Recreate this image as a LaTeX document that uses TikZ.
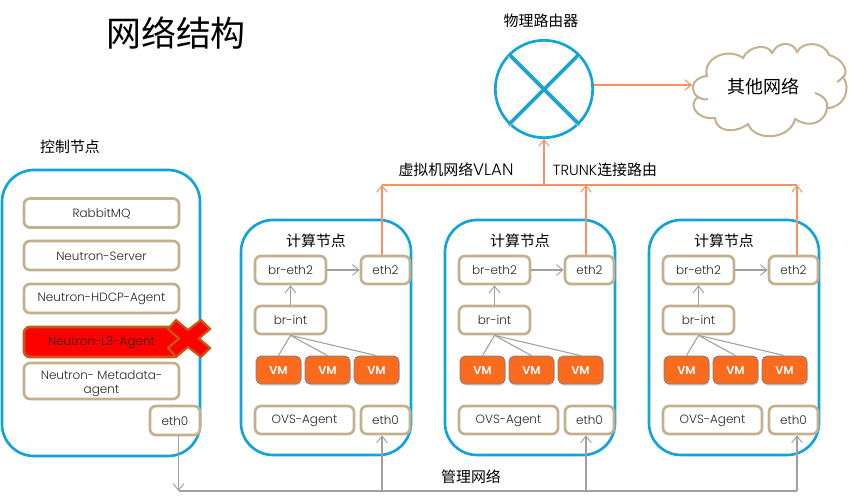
\documentclass[tikz,border=0pt]{standalone}
\usepackage{fontspec}
\setmainfont{Poppins}[UprightFont=* Light,BoldFont=* SemiBold]
\newfontfamily\cjk{Noto Sans CJK SC}
\usetikzlibrary{arrows.meta,shadows}
\definecolor{nodeblue}{HTML}{12A3DA}
\definecolor{tan}{HTML}{C4B08F}
\definecolor{vmorange}{HTML}{FB6B1D}
\definecolor{linkorange}{HTML}{F98F63}
\definecolor{linkgray}{HTML}{A0A0A0}
\definecolor{xborder}{HTML}{C55A11}
\definecolor{txt}{HTML}{262626}
\tikzset{
 x=0.75pt,y=-0.75pt,
 hostbox/.style={draw=nodeblue,line width=2pt,rounded corners=24pt,fill=white,inner sep=0pt},
 svc/.style={draw=tan,line width=2pt,rounded corners=4.5pt,fill=white,inner sep=0pt,text=txt,font=\fontsize{9}{10.4}\selectfont,align=center},
 vmbox/.style={draw=gray,line width=.6pt,rounded corners=4pt,fill=vmorange,inner sep=0pt,text=white,font=\bfseries\fontsize{8.6}{10}\selectfont,
   drop shadow={shadow xshift=.6pt,shadow yshift=-1.2pt,opacity=.3}},
 lbl/.style={inner sep=0pt,text=black,font=\cjk\fontsize{11.2}{13}\selectfont},
 grayline/.style={draw=linkgray,line width=.8pt},
 grayarrow/.style={grayline,-{Straight Barb[length=5pt,width=8pt,line width=.7pt]}},
 orangeline/.style={draw=linkorange,line width=.9pt},
 orangearrow/.style={orangeline,-{Straight Barb[length=5pt,width=8pt,line width=.7pt]}},
}
\newcommand{\tstrut}{\rule[-0.5pt]{0pt}{8pt}}
\newcommand{\bx}[6][svc]{\node[#1,minimum width=#4*0.75pt,minimum height=#5*0.75pt] (#2) at (#3) {\tstrut#6};}
\newcommand{\computeNode}[2]{%
 \begin{scope}[shift={(#2,0)}]
 \node[hostbox,minimum width=127.5pt,minimum height=176.25pt] (host#1) at (326,337.5) {};
 \node[lbl] (title#1) at (316,241) {计算节点};
 \bx{br#1}{290.5,270}{71}{28}{br-eth2}
 \bx{ethb#1}{385.5,270}{49}{28}{eth2}
 \bx{int#1}{290.5,320}{71}{28}{br-int}
 \bx[vmbox]{vma#1}{278.5,370}{45}{28}{VM}
 \bx[vmbox]{vmb#1}{327.5,370}{45}{28}{VM}
 \bx[vmbox]{vmc#1}{376.5,370}{45}{28}{VM}
 \bx{ovs#1}{304.5,420}{99}{28}{OVS-Agent}
 \bx{etha#1}{385.5,420}{49}{28}{eth0}
 \draw[grayarrow] (br#1.east) -- (ethb#1.west);
 \draw[grayarrow] (int#1.north) -- (br#1.south);
 \draw[grayline] (int#1.south) -- (vma#1.north);
 \draw[grayline] (int#1.south) -- (vmb#1.north);
 \draw[grayline] (int#1.south) -- (vmc#1.north);
 \end{scope}}
\begin{document}
\begin{tikzpicture}
\useasboundingbox (0,0) rectangle (849,501);
\fill[white] (0,0) rectangle (849,501);
\node[inner sep=0pt,font=\cjk\fontsize{26.2}{30}\selectfont] (title) at (176,33) {网络结构};
\node[lbl] (ctl) at (70,147) {控制节点};
\node[lbl] (rtl) at (541,21) {物理路由器};
\node[lbl,font=\fontsize{12.5}{13}\selectfont] (vlan) at (456,170) {{\cjk\fontsize{11.2}{13}\selectfont 虚拟机网络}VLAN};
\node[lbl,font=\fontsize{11}{13}\selectfont] (trunk) at (605,170) {TRUNK{\cjk\fontsize{11.2}{13}\selectfont 连接路由}};
\node[lbl] (mgmt) at (471,477) {管理网络};
% control node
\node[hostbox,minimum width=148.5pt,minimum height=214.5pt] (ctlhost) at (101,313) {};
\bx{rabbit}{101.5,213}{155}{29}{RabbitMQ}
\bx{server}{101.5,255.5}{155}{29}{Neutron-Server}
\bx{hdcp}{101.5,298.5}{155}{29}{Neutron-HDCP-Agent}
\node[svc,draw=xborder,fill=red,minimum width=116.25pt,minimum height=22.5pt] (lthree) at (101.5,342) {\tstrut Neutron-L3-Agent};
\bx{meta}{101.5,381}{155}{36}{\rule{0pt}{10pt}Neutron- Metadata-\\agent}
\bx{ethc}{175,420.5}{50}{29}{eth0}
% red cross
\filldraw[fill=red,draw=xborder,line width=1.6pt] (176,320) -- (188,330) -- (201,320) -- (210,329) -- (199,338.5) -- (210,348) -- (201,357) -- (188,347) -- (176,357) -- (168,348) -- (179,338.5) -- (168,329) -- cycle;
% compute nodes
\computeNode{1}{0}
\computeNode{2}{204}
\computeNode{3}{408}
% router
\node[draw=nodeblue,line width=2pt,circle,minimum size=73pt,inner sep=0pt,fill=white] (router) at (544,89) {};
\draw[draw=nodeblue,line width=2.4pt,preaction={draw=gray!50,line width=2.4pt,transform canvas={yshift=-1pt}}]
  (router.45) -- (router.225) (router.135) -- (router.315);
% cloud
\path[draw=tan,line width=1.5pt,fill=white] (707,76)
 .. controls (702,58) and (728,47) .. (743,58)
 .. controls (748,46) and (768,43) .. (772,53)
 .. controls (778,41) and (793,41) .. (797,52)
 .. controls (802,41) and (824,41) .. (829,55)
 .. controls (842,58) and (850,72) .. (843,77)
 .. controls (852,90) and (843,108) .. (827,108)
 .. controls (826,120) and (812,130) .. (795,119)
 .. controls (790,140) and (755,142) .. (748,124)
 .. controls (735,134) and (716,132) .. (715,118)
 .. controls (695,120) and (688,103) .. (698,97)
 .. controls (691,93) and (689,78) .. (707,76) -- cycle;
\draw[tan,line width=1.5pt] (698,97) .. controls (701,99) and (704,100) .. (708,99);
\draw[tan,line width=1.5pt] (837,82) .. controls (839,81) and (841,79) .. (843,77);
\draw[tan,line width=1.5pt] (815,93) .. controls (824,96) and (829,102) .. (827,108);
\node[lbl,font=\cjk\fontsize{13.5}{16}\selectfont] (other) at (763,87) {其他网络};
% links
\coordinate (busA) at (178.5,491);
\coordinate (busB) at (382,491);
\coordinate (busC) at (586,491);
\coordinate (busD) at (797,491);
\coordinate (vlanA) at (382,185);
\coordinate (vlanB) at (586,185);
\coordinate (vlanC) at (797,185);
\coordinate (vlanR) at (544,185);
\coordinate (cloudin) at (692,85);
\draw[grayline,-{Straight Barb[length=5pt,width=8pt,line width=.7pt]}] (ethc.south -| busA) -- (busA);
\draw[grayline] (busA) -- (busD);
\draw[grayarrow] (busB) -- (etha1.south -| busB);
\draw[grayarrow] (busC) -- (etha2.south -| busC);
\draw[grayarrow] (busD) -- (etha3.south -| busD);
\draw[orangeline] (vlanA) -- (vlanC);
\draw[orangearrow] (ethb1.north -| vlanA) -- (vlanA);
\draw[orangearrow] (ethb2.north -| vlanB) -- (vlanB);
\draw[orangearrow] (ethb3.north -| vlanC) -- (vlanC);
\draw[orangearrow] (vlanR) -- (router.south);
\draw[orangearrow] (router.east |- cloudin) -- (cloudin);
\end{tikzpicture}
\end{document}
